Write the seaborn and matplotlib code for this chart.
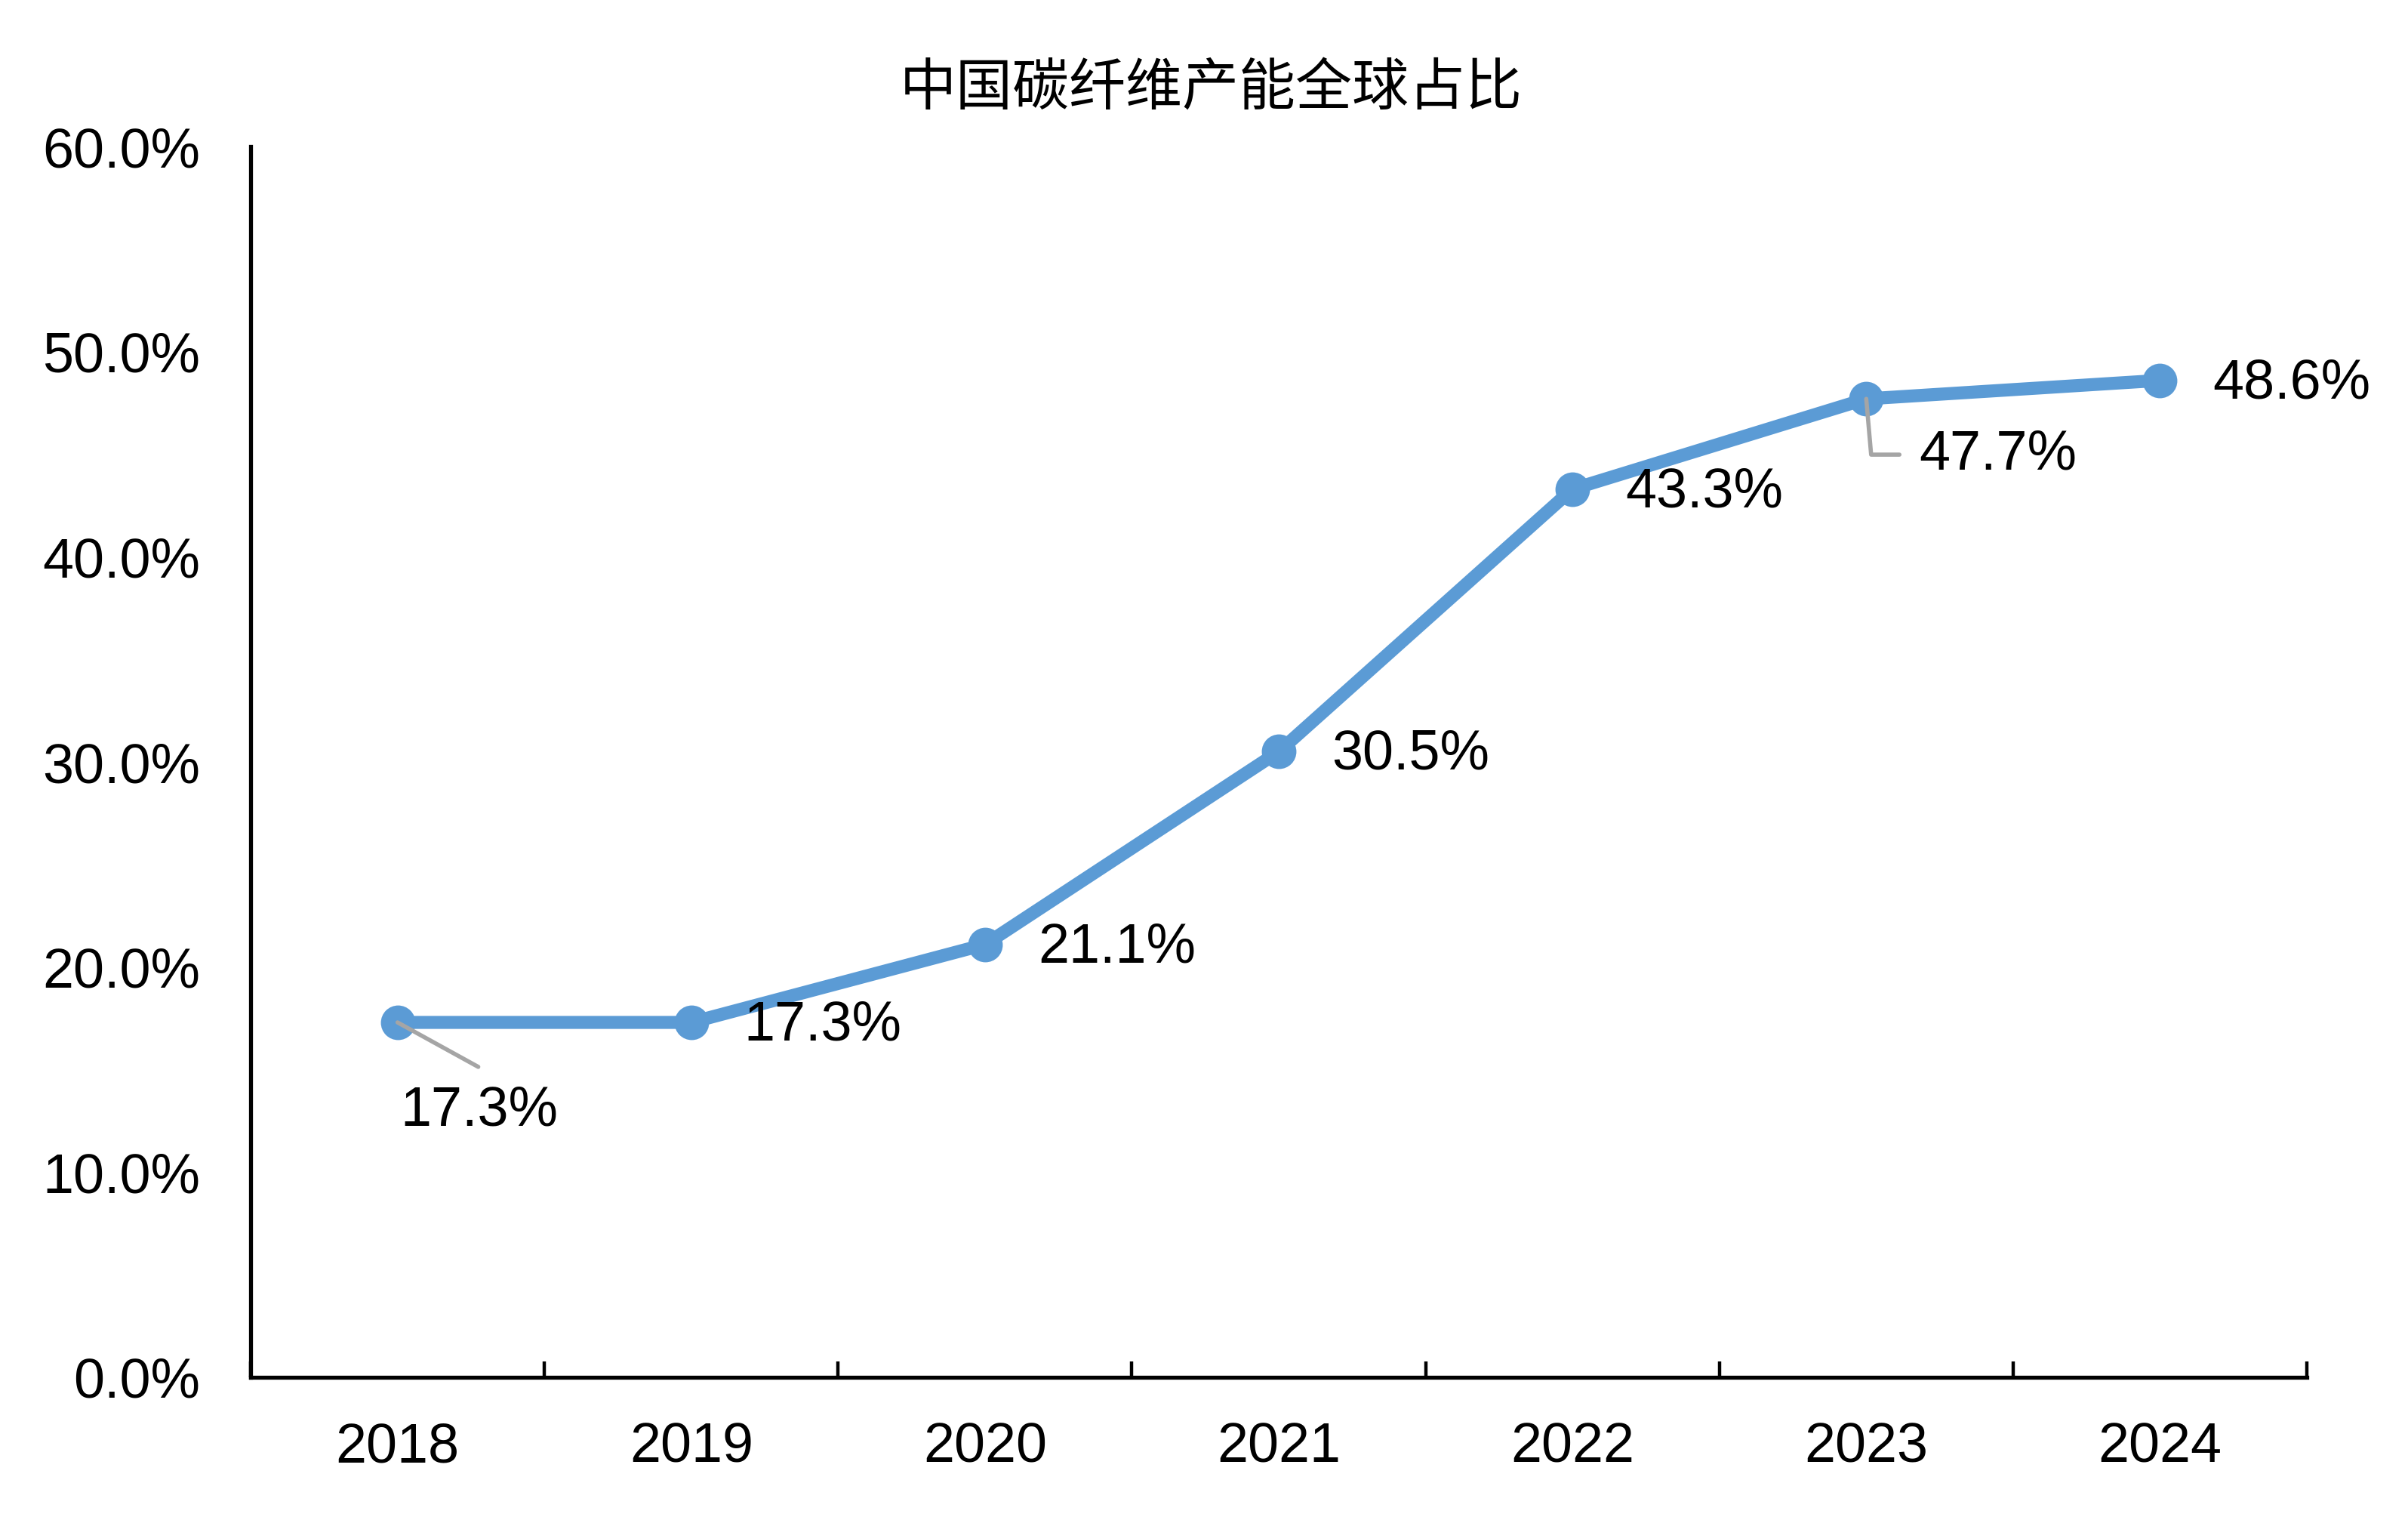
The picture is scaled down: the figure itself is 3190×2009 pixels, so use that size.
import numpy as np
import pandas as pd
import matplotlib
matplotlib.use("Agg")
import matplotlib.pyplot as plt
import seaborn as sns
from matplotlib.ticker import FixedLocator, StrMethodFormatter

# data
years = ["2018", "2019", "2020", "2021", "2022", "2023", "2024"]
share = [17.3, 17.3, 21.1, 30.5, 43.3, 47.7, 48.6]
labels = ["17.3%", "17.3%", "21.1%", "30.5%", "43.3%", "47.7%", "48.6%"]
title = "中国碳纤维产能全球占比"

df = pd.DataFrame({"year": years, "share": share})

sns.set_theme(style="white")
plt.rcParams["font.family"] = ["Liberation Sans", "Noto Sans CJK SC", "DejaVu Sans"]

fig = plt.figure(figsize=(15.95, 10.045), dpi=200)
ax = fig.add_axes([0.1041, 0.0921, 0.958 - 0.1041, 0.9034 - 0.0921])

blue = "#5B9BD5"
sns.lineplot(data=df, x="year", y="share", sort=False, color=blue, linewidth=6.2,
             marker="o", markersize=16.5, markeredgewidth=0, ax=ax)

ax.set_xlim(-0.5, len(years) - 0.5)
ax.set_ylim(0, 60)
ax.set_yticks(np.arange(0, 61, 10))
ax.yaxis.set_major_formatter(StrMethodFormatter("{x:.1f}%"))
ax.set_xticks(range(len(years)))
ax.set_xticklabels(years)
ax.xaxis.set_minor_locator(FixedLocator(np.arange(-0.5, len(years), 1.0)))
ax.set_xlabel("")
ax.set_ylabel("")

ax.tick_params(axis="y", length=0, pad=24, labelsize=26.5, colors="black")
ax.tick_params(axis="x", which="major", length=0, pad=21, labelsize=26.5, colors="black")
ax.tick_params(axis="x", which="minor", direction="in", length=7.6, width=1.6,
               color="black", bottom=True)

for s in ["top", "right"]:
    ax.spines[s].set_visible(False)
for s in ["left", "bottom"]:
    ax.spines[s].set_color("black")
    ax.spines[s].set_linewidth(1.9)

# data labels
grey = "#A5A5A5"
for i, (v, lab) in enumerate(zip(share, labels)):
    if i == 0:
        ax.annotate("", xy=(i, v), xytext=(38.5, -21.2), textcoords="offset points",
                    arrowprops=dict(arrowstyle="-", color=grey, lw=2,
                                    shrinkA=0, shrinkB=0))
        ax.annotate(lab, xy=(i, v), xytext=(39, -42), textcoords="offset points",
                    ha="center", va="center", fontsize=26.5, color="black")
    elif i == 5:
        ax.annotate(lab, xy=(i, v), xytext=(25, -26.6), textcoords="offset points",
                    ha="left", va="center", fontsize=26.5, color="black",
                    arrowprops=dict(arrowstyle="-", color=grey, lw=2,
                                    connectionstyle="angle,angleA=0,angleB=95,rad=0",
                                    shrinkA=7, shrinkB=0))
    else:
        ax.annotate(lab, xy=(i, v), xytext=(25.2, -1.4), textcoords="offset points",
                    ha="left", va="center", fontsize=26.5, color="black")

fig.text(0.503, 0.9418, title, ha="center", va="center", fontsize=27,
         family=["Noto Sans CJK SC", "DejaVu Sans"], color="black")

fig.savefig("out.png", dpi=200, facecolor="white")
plt.close(fig)
